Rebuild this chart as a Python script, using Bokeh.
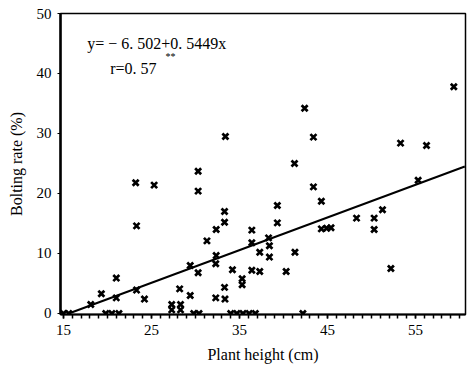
from bokeh.plotting import figure
from bokeh.models import Range1d, FixedTicker, Label
from bokeh.embed import file_html
from bokeh.resources import INLINE

# ---- data ----
plant_height = [
    15.0, 15.6, 19.8, 20.5, 21.3, 29.8, 30.4, 34.0, 34.7, 35.4, 36.1, 36.8, 42.2,
    27.3, 28.3, 27.3, 28.3,
    18.1, 19.3, 21.0, 21.0, 23.3, 24.2, 23.3, 23.2, 25.3,
    28.2, 29.4, 29.4, 30.3, 30.3, 30.3, 31.3,
    32.3, 32.3, 32.35, 32.35, 33.35, 33.3, 33.3, 33.3, 33.4, 34.2,
    35.3, 35.3, 36.4, 36.4, 36.4, 37.3, 37.3, 38.3, 38.4, 38.4,
    39.3, 39.3, 40.3, 41.3, 41.25, 42.4, 43.4, 43.4, 44.3, 44.3, 44.9, 45.4,
    48.3, 50.3, 50.3, 51.25, 52.2, 53.3, 55.3, 56.25, 59.35,
]
bolting_rate = [
    0, 0, 0, 0, 0, 0, 0, 0, 0, 0, 0, 0, 0,
    1.5, 1.5, 0.6, 0.6,
    1.5, 3.3, 5.9, 2.6, 3.9, 2.4, 14.6, 21.8, 21.4,
    4.1, 8.0, 3.0, 6.8, 23.7, 20.4, 12.1,
    2.6, 8.3, 9.65, 14.0, 2.4, 4.35, 17.0, 15.2, 29.5, 7.3,
    5.8, 4.8, 7.2, 11.8, 13.9, 7.0, 10.2, 12.6, 11.3, 9.4,
    18.0, 15.1, 7.0, 10.2, 25.0, 34.2, 29.4, 21.1, 18.7, 14.1, 14.2, 14.3,
    15.9, 15.9, 14.0, 17.3, 7.5, 28.4, 22.2, 28.0, 37.8,
]
fit_x = [15.6, 60.6]
fit_y = [0.0, 24.5]
x_ticks = [15, 25, 35, 45, 55]
y_ticks = [0, 10, 20, 30, 40, 50]
equation = "y= − 6. 502+0. 5449x"
r_text = "r=0. 57"

FONT = "Liberation Serif"

p = figure(width=469, height=366, output_backend="svg", toolbar_location=None,
           x_range=Range1d(14.66, 60.68), y_range=Range1d(-0.17, 50.0),
           min_border_left=60, min_border_right=4, min_border_top=13,
           min_border_bottom=52)
p.xgrid.visible = False
p.ygrid.visible = False
p.outline_line_color = "black"
p.outline_line_width = 1.5
p.outline_line_alpha = 1.0
p.background_fill_color = "white"
p.border_fill_color = "white"

p.xaxis.ticker = FixedTicker(ticks=x_ticks, minor_ticks=list(range(15, 61)))
p.yaxis.ticker = FixedTicker(ticks=y_ticks, minor_ticks=[])

for ax in (p.xaxis, p.yaxis):
    ax.axis_line_color = "black"
    ax.major_tick_line_color = "black"
    ax.minor_tick_line_color = "black"
    ax.major_tick_in = 0
    ax.minor_tick_in = 0
    ax.major_label_text_font = FONT
    ax.major_label_text_font_size = "15px"
    ax.major_label_text_color = "black"
    ax.axis_label_text_font = FONT
    ax.axis_label_text_font_size = "16px"
    ax.axis_label_text_font_style = "normal"
    ax.axis_label_text_color = "black"

p.xaxis.axis_line_width = 2
p.xaxis.major_tick_out = 4
p.xaxis.minor_tick_out = 4
p.xaxis.major_tick_line_width = 1.5
p.xaxis.minor_tick_line_width = 1.5
p.xaxis.major_label_standoff = 6
p.xaxis.axis_label = "Plant height (cm)"
p.xaxis.axis_label_standoff = 8

p.yaxis.axis_line_width = 2.5
p.yaxis.major_tick_out = 3
p.yaxis.major_label_standoff = 6
p.yaxis.axis_label = "Bolting rate (%)"
p.yaxis.axis_label_standoff = 9

p.line(fit_x, fit_y, line_color="black", line_width=2)
p.scatter(plant_height, bolting_rate, marker="x", size=8.5, line_color="black",
          line_width=2.7)

p.add_layout(Label(x=17.7, y=45.0, text=equation, text_font=FONT,
                   text_font_size="16px", text_baseline="middle",
                   text_color="black"))
p.add_layout(Label(x=20.3, y=40.9, text=r_text, text_font=FONT,
                   text_font_size="16px", text_baseline="middle",
                   text_color="black"))
p.add_layout(Label(x=26.6, y=42.8, text="**", text_font=FONT,
                   text_font_size="10px", text_baseline="middle",
                   text_color="black"))

open("out.html", "w").write(file_html(p, INLINE))
